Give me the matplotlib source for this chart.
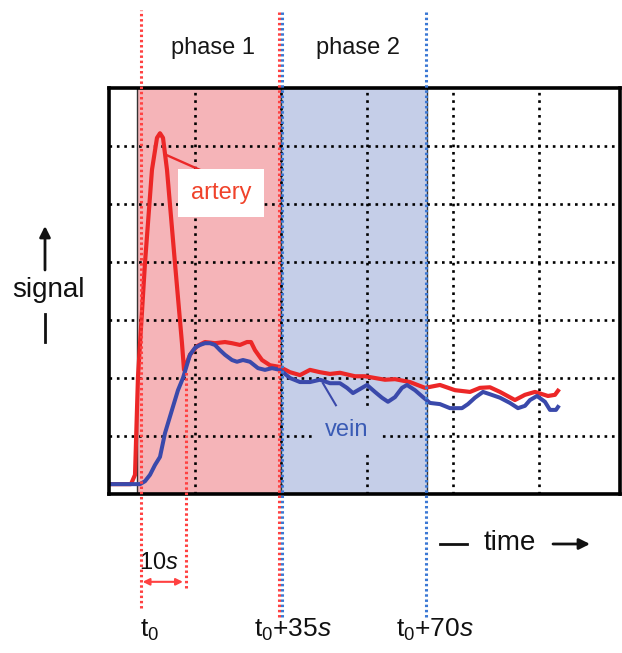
import matplotlib
matplotlib.use("Agg")
import matplotlib.pyplot as plt
import matplotlib.transforms as mtransforms

plt.rcParams['font.family'] = ['Liberation Sans', 'DejaVu Sans']
plt.rcParams['mathtext.fontset'] = 'custom'
plt.rcParams['mathtext.rm'] = 'Liberation Sans'
plt.rcParams['mathtext.it'] = 'Liberation Sans:italic'

# Zeit in s (t0 = 0), Signal in Rastereinheiten (0..7)
artery_t = [-7.86, -2.46, -1.47, -0.74, 0.98, 2.70, 3.93, 4.67, 5.41, 6.39, 8.35, 10.07, 10.57,
            12.04, 13.76, 15.72, 18.18, 20.64, 22.36, 24.32, 26.04, 27.03, 28.01, 29.73, 31.70,
            34.15, 36.61, 39.07, 41.52, 43.98, 46.44, 48.89, 52.58, 55.04, 57.49, 59.95, 62.41,
            66.09, 69.78, 73.46, 77.15, 80.84, 83.29, 85.75, 88.21, 91.89, 94.35, 96.81, 100.0,
            101.72, 102.46]
artery_s = [0.17, 0.17, 0.33, 2.02, 3.98, 5.59, 6.14, 6.22, 6.14, 5.59, 3.98, 2.60, 2.14,
            2.40, 2.55, 2.62, 2.60, 2.62, 2.60, 2.57, 2.62, 2.62, 2.48, 2.31, 2.22,
            2.19, 2.10, 2.05, 2.14, 2.10, 2.07, 2.09, 2.03, 2.03, 2.00, 1.97, 1.98,
            1.93, 1.83, 1.88, 1.79, 1.76, 1.83, 1.84, 1.76, 1.62, 1.71, 1.76, 1.69,
            1.71, 1.78]

vein_t = [-7.86, -0.25, 0.98, 2.21, 3.44, 4.67, 5.90, 7.62, 9.09, 10.32, 12.04, 13.27, 14.50,
          15.72, 16.95, 18.18, 19.41, 20.64, 22.36, 23.59, 25.06, 26.78, 28.75, 30.47, 32.19,
          34.15, 36.61, 39.07, 41.52, 43.98, 46.44, 48.89, 50.61, 52.09, 53.81, 55.53, 57.49,
          59.21, 60.69, 62.41, 64.13, 65.36, 67.32, 69.29, 71.01, 73.46, 75.92, 78.87, 80.34,
          82.06, 84.03, 85.75, 88.21, 90.66, 92.63, 94.35, 95.58, 97.30, 99.26, 100.49,
          101.97, 102.46]
vein_s = [0.17, 0.17, 0.22, 0.33, 0.50, 0.64, 1.05, 1.45, 1.79, 2.00, 2.40, 2.52, 2.57,
          2.60, 2.60, 2.57, 2.48, 2.40, 2.31, 2.28, 2.31, 2.28, 2.17, 2.14, 2.17,
          2.14, 2.00, 1.93, 1.93, 1.97, 1.91, 1.91, 1.83, 1.74, 1.81, 1.88, 1.76,
          1.66, 1.59, 1.67, 1.83, 1.88, 1.79, 1.67, 1.57, 1.55, 1.48, 1.48, 1.55,
          1.66, 1.76, 1.72, 1.66, 1.57, 1.48, 1.52, 1.62, 1.69, 1.59, 1.45,
          1.45, 1.50]

phase_edges = [-1.0, 34.4, 70.3]
phase_labels = ["phase 1", "phase 2"]
grid_t = [13.27, 34.4, 55.5, 76.7, 97.8]
grid_s = [1, 2, 3, 4, 5, 6]
time_labels = ["t$_0$", "t$_0$+35$\\it{s}$", "t$_0$+70$\\it{s}$"]
time_label_t = [2.0, 37.3, 72.2]

red = '#ec2727'
blue = '#3a49ab'
red_dot = '#ff4141'
blue_dot = '#3b78d4'

fig = plt.figure(figsize=(6.22, 6.53), dpi=100)
ax = fig.add_axes([109 / 622, (653 - 494) / 653, (620 - 109) / 622, (494 - 88) / 653])
ax.set_xlim(-7.86, 117.7)
ax.set_ylim(0, 7)

ax.axvspan(phase_edges[0], phase_edges[1], facecolor='#f5b4b8', edgecolor='#333333', lw=1, zorder=1)
ax.axvspan(phase_edges[1], phase_edges[2], facecolor='#c5cee8', edgecolor='#333333', lw=1, zorder=1)

ax.set_xticks(grid_t)
ax.set_yticks(grid_s)
ax.set_axisbelow('line')
ax.grid(True, color='black', linestyle=(0, (1, 1.8)), lw=1.9)
ax.tick_params(length=0, labelbottom=False, labelleft=False)
for sp in ax.spines.values():
    sp.set_linewidth(2.6)
    sp.set_zorder(5)

ax.plot(artery_t, artery_s, color=red, lw=3.0, zorder=3, solid_joinstyle='round')
ax.plot(vein_t, vein_s, color=blue, lw=2.9, zorder=3.1, solid_joinstyle='round')

# Beschriftungen
ax.text(19.66, 5.19, "artery", color='#f0422a', fontsize=17, ha='center', va='center', zorder=4,
        bbox=dict(boxstyle='square,pad=0.55', facecolor='white', edgecolor='none'))
ax.plot([6.39, 15.72], [5.84, 5.55], color=red, lw=1.7, zorder=3)
ax.text(50.6, 1.10, "vein", color='#3a5bb5', fontsize=17, ha='center', va='center', zorder=2.5,
        bbox=dict(boxstyle='square,pad=0.5', facecolor='#c5cee8', edgecolor='none'))
ax.plot([44.7, 47.9], [1.91, 1.53], color=blue, lw=1.5, zorder=3)

bt = mtransforms.blended_transform_factory(ax.transData, fig.transFigure)
ev = [(0.0, 0.069, 0.985, red_dot), (11.0, 0.10, 0.433, red_dot),
      (33.9, 0.055, 0.985, red_dot), (34.6, 0.055, 0.985, blue_dot),
      (70.0, 0.055, 0.985, blue_dot)]
for t, y0, y1, c in ev:
    ax.plot([t, t], [y0, y1], transform=bt, clip_on=False, color=c, lw=2.2,
            linestyle=(0, (0.8, 0.9)), zorder=6)

for i, lab in enumerate(phase_labels):
    ax.text((phase_edges[i] + phase_edges[i + 1]) / 2 + 1.0, 0.927, lab, transform=bt,
            fontsize=17, ha='center', va='center', color='#161616')

for t, lab in zip(time_label_t, time_labels):
    ax.text(t, 0.035, lab, transform=bt, fontsize=19, ha='center', va='center', color='#111111')

ax.text(4.3, 0.138, "10$\\it{s}$", transform=bt, fontsize=17, ha='center', va='center', color='#111111')
ax.annotate("", xy=(10.3, 0.109), xytext=(0.4, 0.109), xycoords=bt, textcoords=bt,
            arrowprops=dict(arrowstyle='<|-|>', color=red_dot, lw=1.5, mutation_scale=10,
                            shrinkA=0, shrinkB=0))

# Achsenbeschriftungen als Pfeile
fig.text(48 / 622, (653 - 290) / 653, "signal", fontsize=20, ha='center', va='center', color='#111111')
fig.add_artist(plt.Line2D([45 / 622, 45 / 622], [(653 - 342) / 653, (653 - 314) / 653],
                          color='#111111', lw=2))
ax.annotate("", xy=(45, 653 - 226), xytext=(45, 653 - 270), xycoords='figure pixels',
            arrowprops=dict(arrowstyle='-|>', color='#111111', lw=2, mutation_scale=16,
                            shrinkA=0, shrinkB=0))
fig.text(510 / 622, (653 - 543) / 653, "time", fontsize=20, ha='center', va='center', color='#111111')
fig.add_artist(plt.Line2D([440 / 622, 467 / 622], [(653 - 544) / 653] * 2, color='#111111', lw=2))
ax.annotate("", xy=(590, 653 - 544), xytext=(553, 653 - 544), xycoords='figure pixels',
            arrowprops=dict(arrowstyle='-|>', color='#111111', lw=2, mutation_scale=16,
                            shrinkA=0, shrinkB=0))

fig.savefig("out.png", dpi=100)
